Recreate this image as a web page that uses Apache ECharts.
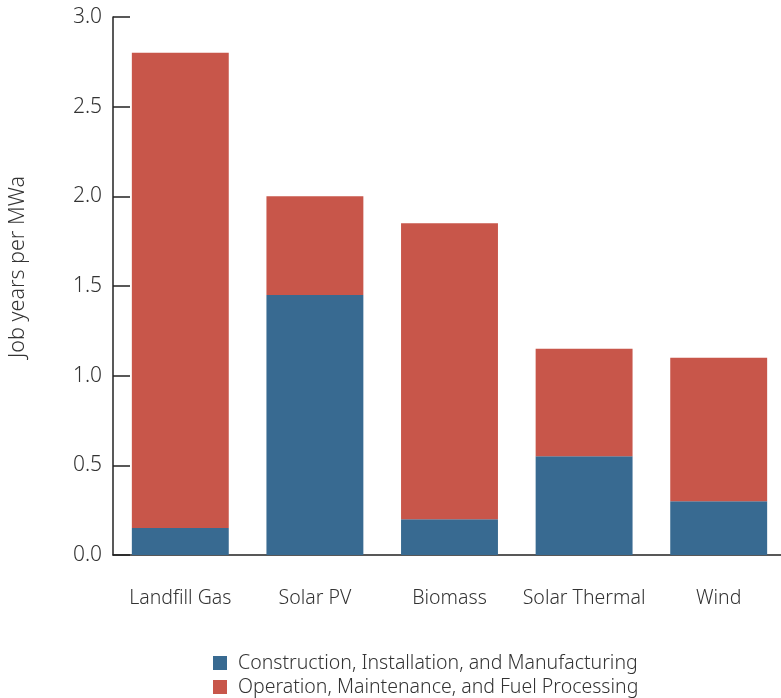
<!DOCTYPE html>
<html><head><meta charset="utf-8">
<script src="https://cdn.jsdelivr.net/npm/echarts@6/dist/echarts.min.js"></script>
<style>html,body{margin:0;padding:0;background:#fff}#c{width:781px;height:698px}</style>
</head><body><div id="c"></div>
<script>
const categories = ["Landfill Gas", "Solar PV", "Biomass", "Solar Thermal", "Wind"];
const construction = [0.15, 1.45, 0.2, 0.55, 0.3];
const operation = [2.65, 0.55, 1.65, 0.6, 0.8];
const seriesNames = ["Construction, Installation, and Manufacturing", "Operation, Maintenance, and Fuel Processing"];
const yTicks = [0, 0.5, 1.0, 1.5, 2.0, 2.5, 3.0];

const FONT = "Noto Sans";
const legendText = {fontFamily: FONT, fontSize: 19.5, lineHeight: 20, color: '#333', fontWeight: 300, padding: [0, 0, 0, 6]};
const chart = echarts.init(document.getElementById('c'));
chart.setOption({
  animation: false,
  textStyle: {fontFamily: FONT},
  grid: {left: 113, top: 17, width: 673, height: 538, containLabel: false, outerBoundsMode: 'none'},
  legend: [
    {left: 208, top: 648, itemWidth: 14, itemHeight: 14, icon: 'rect', textStyle: legendText, data: [seriesNames[0]]},
    {left: 208, top: 672, itemWidth: 14, itemHeight: 14, icon: 'rect', textStyle: legendText, data: [seriesNames[1]]}
  ],
  xAxis: {
    type: 'category', data: categories,
    axisLine: {lineStyle: {color: '#222', width: 1.5}},
    axisTick: {inside: true, length: 13, lineStyle: {color: '#222', width: 1.5}},
    axisLabel: {interval: 0, margin: 33, fontSize: 19.5, color: '#333', fontFamily: FONT, fontWeight: 300}
  },
  yAxis: {
    type: 'value', min: yTicks[0], max: yTicks[yTicks.length - 1], interval: 0.5,
    name: 'Job years per MWa', nameLocation: 'middle', nameGap: 84, nameRotate: 90,
    nameTextStyle: {fontSize: 21.5, color: '#333', fontFamily: FONT, fontWeight: 300, padding: [0, 0, 0, 38]},
    axisLine: {show: true, lineStyle: {color: '#222', width: 1.5}},
    axisTick: {show: true, inside: true, length: 17, lineStyle: {color: '#222', width: 1.5}},
    splitLine: {show: false},
    axisLabel: {margin: 11, fontSize: 21, color: '#333', fontFamily: FONT, fontWeight: 300,
      formatter: v => v.toFixed(1)}
  },
  series: [
    {name: seriesNames[0], type: 'bar', stack: 'a', data: construction, barWidth: '72%',
      itemStyle: {color: '#386a91'}},
    {name: seriesNames[1], type: 'bar', stack: 'a', data: operation, barWidth: '72%',
      itemStyle: {color: '#c8564a'}}
  ]
});
</script></body></html>
